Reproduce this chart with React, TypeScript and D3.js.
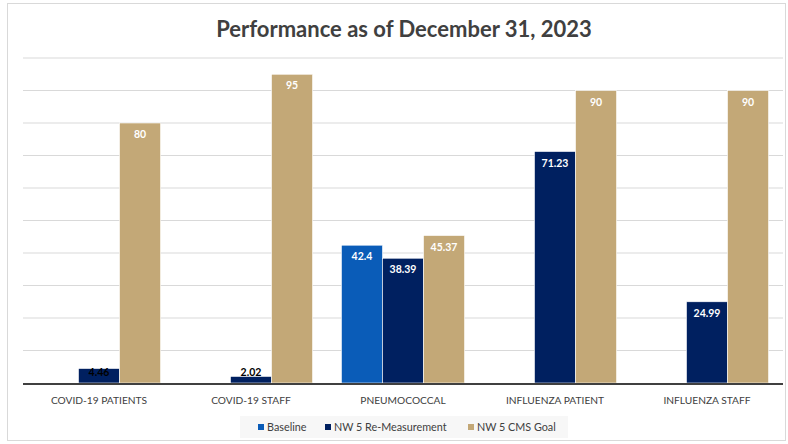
import React from "react";
import * as d3 from "d3";

const categories = ["COVID-19 PATIENTS", "COVID-19 STAFF", "PNEUMOCOCCAL", "INFLUENZA PATIENT", "INFLUENZA STAFF"];
const seriesNames = ["Baseline", "NW 5 Re-Measurement", "NW 5 CMS Goal"];
const baseline: (number | null)[] = [null, null, 42.4, null, null];
const remeasure: (number | null)[] = [4.46, 2.02, 38.39, 71.23, 24.99];
const goal: (number | null)[] = [80, 95, 45.37, 90, 90];
const yTicks = [0, 10, 20, 30, 40, 50, 60, 70, 80, 90, 100];
const colors = ["#0A5CB8", "#002060", "#C3A877"];

export default function App() {
  const W = 788, H = 444;
  const left = 23, right = 783, top = 58, bottom = 383;
  const font = "Lato, 'Open Sans', sans-serif";
  const x0 = d3.scaleBand().domain(categories).range([left, right]).paddingInner(0.19).paddingOuter(0.095);
  const x1 = d3.scaleBand().domain(seriesNames).range([0, x0.bandwidth()]);
  const y = d3.scaleLinear().domain([0, 100]).range([bottom, top]);
  const data = [baseline, remeasure, goal];

  return (
    <svg width={W} height={H} style={{ position: "absolute", left: 0, top: 0, background: "#fff" }} fontFamily={font}>
      <rect x={7.5} y={3.5} width={778} height={437} fill="#fff" stroke="#d9d9d9" />
      <text x={404} y={37} textAnchor="middle" fontSize={22} fontWeight="bold" fill="#404040">
        Performance as of December 31, 2023
      </text>
      {yTicks.slice(1).map((t) => (
        <line key={t} x1={left} x2={right} y1={y(t)} y2={y(t)} stroke="#d9d9d9" strokeWidth={1} />
      ))}
      {data.map((series, si) =>
        series.map((v, ci) => {
          if (v == null) return null;
          const bx = (x0(categories[ci]) as number) + (x1(seriesNames[si]) as number);
          const bw = x1.bandwidth();
          const by = y(v);
          const h = bottom - by;
          const small = h < 20;
          return (
            <g key={`${si}-${ci}`}>
              <rect x={bx} y={by} width={bw} height={h} fill={colors[si]} stroke="#ffffff" strokeWidth={0.6} />
              <text
                x={bx + bw / 2}
                y={small ? bottom - 7.5 : by + 15}
                textAnchor="middle"
                fontSize={10.5}
                fontWeight="bold"
                fill={small ? "#000" : "#fff"}
              >
                {v}
              </text>
            </g>
          );
        })
      )}
      <line x1={left} x2={right} y1={bottom + 1} y2={bottom + 1} stroke="#404040" strokeWidth={2} />
      {categories.map((c) => (
        <text key={c} x={(x0(c) as number) + x0.bandwidth() / 2} y={404} textAnchor="middle" fontSize={10.2} fill="#404040">
          {c}
        </text>
      ))}
      <rect x={240} y={416} width={328} height={22} fill="#f7f7f7" />
      {seriesNames.map((s, i) => {
        const lx = [258, 325, 468][i];
        return (
          <g key={s}>
            <rect x={lx} y={424} width={6} height={6} fill={colors[i]} />
            <text x={lx + 9} y={431} fontSize={10.8} fill="#404040">
              {s}
            </text>
          </g>
        );
      })}
    </svg>
  );
}
